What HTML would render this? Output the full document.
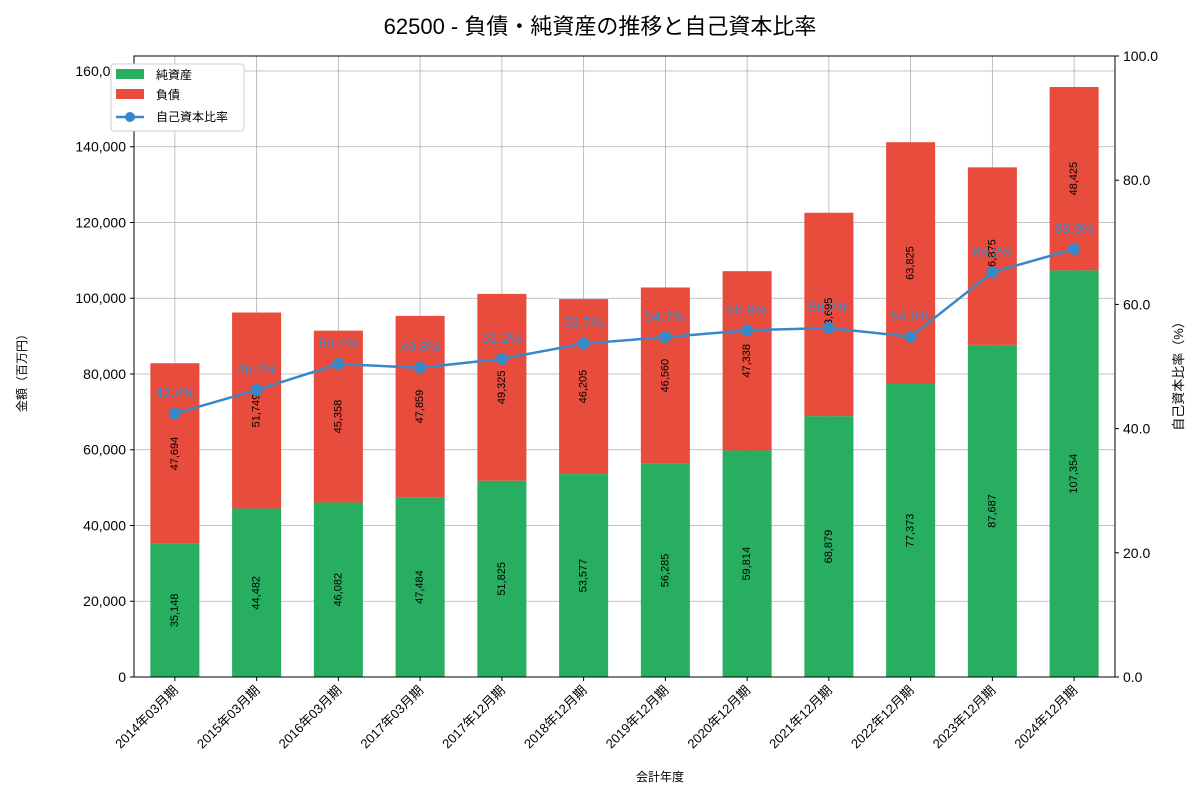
<!DOCTYPE html>
<html><head><meta charset="utf-8"><style>
body{margin:0;background:#fff;}
svg text{font-family:"Liberation Sans","Noto Sans CJK JP",sans-serif;}
</style></head><body>
<svg id="c" width="1200" height="800" xmlns="http://www.w3.org/2000/svg"></svg>
<script>
const categories=["2014年03月期","2015年03月期","2016年03月期","2017年03月期","2017年12月期","2018年12月期","2019年12月期","2020年12月期","2021年12月期","2022年12月期","2023年12月期","2024年12月期"];
const netAssets=[35148,44482,46082,47484,51825,53577,56285,59814,68879,77373,87687,107354];
const liabilities=[47694,51749,45358,47859,49325,46205,46560,47338,53695,63825,46875,48425];
const leftTicks=[0,20000,40000,60000,80000,100000,120000,140000,160000];
const rightTicks=[0,20,40,60,80,100];
const NS="http://www.w3.org/2000/svg";
const svg=document.getElementById('c');
const L=134,R=1115,T=56,B=677,leftMax=163960;
const step=(R-L)/categories.length;
const xc=i=>L+step*(i+0.5);
const yL=v=>B-(v/leftMax)*(B-T);
const yR=v=>B-(v/100)*(B-T);
function el(tag,attrs,txt){const e=document.createElementNS(NS,tag);for(const k in attrs)e.setAttribute(k,attrs[k]);if(txt!==undefined)e.textContent=txt;svg.appendChild(e);return e;}
const fmt=v=>v.toLocaleString('en-US');
// title
let t=el('text',{x:600,y:34,'text-anchor':'middle','font-size':22,fill:'#000'},'62500 - 負債・純資産の推移と自己資本比率');


// grid
leftTicks.forEach(v=>{const g=el('line',{x1:L,x2:R,y1:yL(v),y2:yL(v),stroke:'#b0b0b0','stroke-width':0.8});

});
categories.forEach((c,i)=>{const g=el('line',{x1:xc(i),x2:xc(i),y1:T,y2:B,stroke:'#b0b0b0','stroke-width':0.8});

});
// bars
const bw=step*0.6;
categories.forEach((c,i)=>{
 const y0=yL(netAssets[i]);
 const b1=el('rect',{x:xc(i)-bw/2,y:y0,width:bw,height:B-y0,fill:'#27ae60'});
 
 
 const y1=yL(netAssets[i]+liabilities[i]);
 const b2=el('rect',{x:xc(i)-bw/2,y:y1,width:bw,height:y0-y1,fill:'#e74c3c'});
 
 
 const m1=(B+y0)/2,m2=(y0+y1)/2;
 const l1=el('text',{x:xc(i),y:m1,'font-size':11,'text-anchor':'middle','dominant-baseline':'central',transform:`rotate(-90 ${xc(i)} ${m1})`},fmt(netAssets[i]));
 
 
 const l2=el('text',{x:xc(i),y:m2,'font-size':11,'text-anchor':'middle','dominant-baseline':'central',transform:`rotate(-90 ${xc(i)} ${m2})`},fmt(liabilities[i]));
 
 
});
// ratio line
const ratio=categories.map((c,i)=>netAssets[i]/(netAssets[i]+liabilities[i])*100);
const pl=el('polyline',{points:ratio.map((r,i)=>xc(i)+','+yR(r)).join(' '),fill:'none',stroke:'#3a87c8','stroke-width':2.5});


ratio.forEach((r,i)=>{
 const p=el('circle',{cx:xc(i),cy:yR(r),r:6,fill:'#3a87c8'});
 
 
 const tl=el('text',{x:xc(i),y:yR(r)-16,'font-size':14,'text-anchor':'middle',fill:'#3a87c8'},r.toFixed(1)+'%');
 
 
});
// axes frame
const fr=el('rect',{x:L,y:T,width:R-L,height:B-T,fill:'none',stroke:'#000','stroke-width':1});


leftTicks.forEach(v=>{el('line',{x1:L-4,x2:L,y1:yL(v),y2:yL(v),stroke:'#000'});
 const tx=el('text',{x:L-8,y:yL(v)+5,'font-size':14,'text-anchor':'end'},fmt(v));
 
 });
rightTicks.forEach(v=>{el('line',{x1:R,x2:R+4,y1:yR(v),y2:yR(v),stroke:'#000'});
 const tx=el('text',{x:R+8,y:yR(v)+5,'font-size':14},v.toFixed(1));
 
 });
categories.forEach((c,i)=>{el('line',{x1:xc(i),x2:xc(i),y1:B,y2:B+4,stroke:'#000'});
 const tx=el('text',{x:xc(i)+4,y:B+14,'font-size':13,'text-anchor':'end',transform:`rotate(-45 ${xc(i)+4} ${B+14})`},c);
 
 });
let a=el('text',{x:660,y:781,'font-size':12,'text-anchor':'middle'},'会計年度');


a=el('text',{x:26,y:370,'font-size':12,'text-anchor':'middle',transform:'rotate(-90 26 370)'},'金額（百万円）');


a=el('text',{x:1183,y:373,'font-size':13,'text-anchor':'middle',transform:'rotate(-90 1183 373)'},'自己資本比率（%）');


// legend
const lg=el('rect',{x:111,y:64,width:133,height:67,fill:'#fff',stroke:'#ccc',rx:3});


[['純資産','#27ae60'],['負債','#e74c3c']].forEach((d,k)=>{
 const y=69+k*20;
 const r=el('rect',{x:116,y:y,width:28,height:10,fill:d[1]});
 
 
 const tx=el('text',{x:156,y:y+10,'font-size':12},d[0]);
 
 
});
el('line',{x1:116,x2:144,y1:117,y2:117,stroke:'#3a87c8','stroke-width':2.5});
el('circle',{cx:130,cy:117,r:5,fill:'#3a87c8'});
const lt=el('text',{x:156,y:121,'font-size':12},'自己資本比率');


</script>
</body></html>
